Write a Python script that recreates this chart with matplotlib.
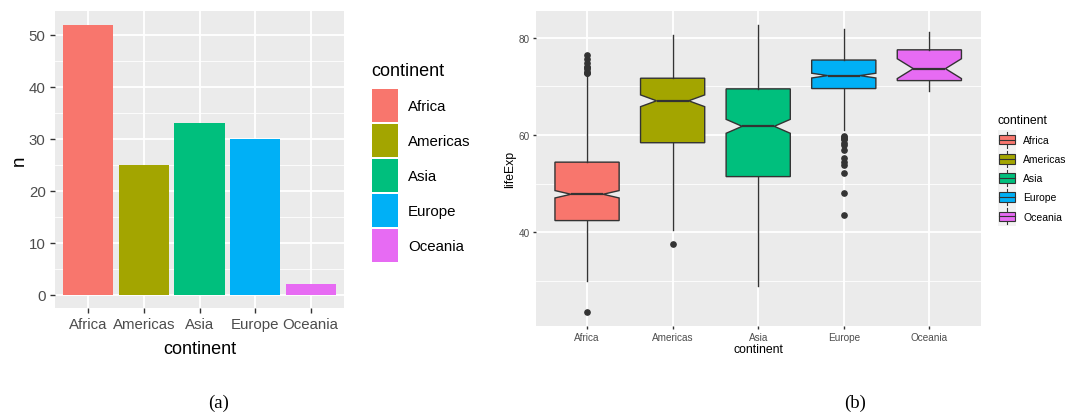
import numpy as np
import matplotlib.pyplot as plt
from matplotlib.patches import Patch, Rectangle
from matplotlib.lines import Line2D
from matplotlib.legend_handler import HandlerBase

plt.rcParams['font.family'] = ['Liberation Sans', 'DejaVu Sans']

# data
continents = ["Africa", "Americas", "Asia", "Europe", "Oceania"]
colors = ["#F8766D", "#A3A500", "#00BF7D", "#00B0F6", "#E76BF3"]

# (a) number of countries per continent
n_countries = [52, 25, 33, 30, 2]

# (b) lifeExp summary per continent
q1 = [42.37, 58.41, 51.43, 69.57, 71.21]
med = [47.79, 67.05, 61.79, 72.24, 73.67]
q3 = [54.41, 71.70, 69.51, 75.45, 77.55]
whis_lo = [30.00, 40.41, 28.80, 61.04, 69.12]
whis_hi = [72.30, 80.65, 82.60, 81.76, 81.24]
n_obs = [624, 300, 396, 360, 24]
outliers = [
    [23.60, 72.74, 72.80, 73.04, 73.62, 73.92, 73.95, 74.77, 75.74, 76.44],
    [37.58],
    [],
    [43.59, 48.08, 52.10, 53.82, 54.34, 55.23, 57.00, 58.00, 58.45,
     59.16, 59.28, 59.51, 59.82],
    [],
]

W, H = 1067, 414
BG = "#EBEBEB"
TICK = "#4D4D4D"
LINE = "#333333"


def gg_axes(ax, lab_size, tlen, tpad):
    ax.set_facecolor(BG)
    for s in ax.spines.values():
        s.set_visible(False)
    ax.grid(True, which="major", color="white", lw=1.3)
    ax.grid(True, which="minor", axis="y", color="white", lw=0.6)
    ax.set_axisbelow(True)
    ax.tick_params(which="major", colors=LINE, labelcolor=TICK, length=tlen,
                   width=1, labelsize=lab_size, pad=tpad)
    ax.tick_params(which="minor", length=0)


def key_height(px, fs):
    # legend handle height (in fontsize units) that gives a box of px pixels
    pt = px * 72 / 100
    return (pt / fs - 0.245) / 0.65


fig = plt.figure(figsize=(W / 100, H / 100), dpi=100)

# ---- (a) bar chart
ax1 = fig.add_axes([55 / W, 1 - 309 / H, 289 / W, 297 / H])
gg_axes(ax1, 10.8, 3.5, 3.2)
x = np.arange(1, len(continents) + 1)
ax1.bar(x, n_countries, width=0.9, color=colors)
ax1.set_xlim(0.4, 5.6)
ax1.set_ylim(-2.6, 54.6)
ax1.set_xticks(x)
ax1.set_xticklabels(continents)
ax1.set_yticks(range(0, 51, 10))
ax1.set_yticks(range(5, 50, 10), minor=True)
ax1.set_xlabel("continent", fontsize=13, labelpad=6)
ax1.set_ylabel("n", fontsize=13.5, labelpad=1)

fs1 = 10.8
h1 = [Patch(facecolor=c, edgecolor="none") for c in colors]
leg1 = ax1.legend(h1, continents, loc="upper left",
                  bbox_to_anchor=(372 / W, 1 - 90 / H),
                  bbox_transform=fig.transFigure, frameon=False,
                  fontsize=fs1, borderpad=0, borderaxespad=0,
                  handlelength=26 * 0.72 / fs1,
                  handleheight=key_height(33, fs1),
                  labelspacing=2 * 0.72 / fs1,
                  handletextpad=10 * 0.72 / fs1)
fig.text(371 / W, 1 - 76 / H, "continent", fontsize=13, va="baseline",
         ha="left")

# ---- (b) notched boxplot
ax2 = fig.add_axes([535.7 / W, 1 - 327 / H, 445 / W, 315 / H])
gg_axes(ax2, 7.2, 2.5, 1.8)
stats = []
for i in range(len(continents)):
    notch = 1.58 * (q3[i] - q1[i]) / np.sqrt(n_obs[i])
    stats.append(dict(med=med[i], q1=q1[i], q3=q3[i], whislo=whis_lo[i],
                      whishi=whis_hi[i], fliers=outliers[i],
                      cilo=med[i] - notch, cihi=med[i] + notch))
bp = ax2.bxp(stats, positions=x, widths=0.75, shownotches=True,
             patch_artist=True, showcaps=False, manage_ticks=False,
             boxprops=dict(edgecolor=LINE, linewidth=1),
             whiskerprops=dict(color=LINE, linewidth=1),
             medianprops=dict(color=LINE, linewidth=1.6),
             flierprops=dict(marker="o", markerfacecolor=LINE,
                             markeredgecolor=LINE, markersize=3.8))
for box, c in zip(bp["boxes"], colors):
    box.set_facecolor(c)
ax2.set_xlim(0.4, 5.6)
ax2.set_ylim(20.65, 85.55)
ax2.set_xticks(x)
ax2.set_xticklabels(continents)
ax2.set_yticks([40, 60, 80])
ax2.set_yticks([30, 50, 70], minor=True)
ax2.set_xlabel("continent", fontsize=8.8, labelpad=1)
ax2.set_ylabel("lifeExp", fontsize=8.8, labelpad=2)


class BoxKey(HandlerBase):
    def create_artists(self, legend, orig, xd, yd, w, h, fs, trans):
        x0, y0 = -xd, -yd
        bg = Rectangle((x0, y0), w, h, facecolor="#F2F2F2", edgecolor="none",
                       transform=trans)
        wl = Line2D([x0 + w / 2] * 2, [y0 + 0.08 * h, y0 + 0.92 * h],
                    color=LINE, lw=0.8, transform=trans)
        bx = Rectangle((x0 + 0.08 * w, y0 + 0.25 * h), 0.84 * w, 0.5 * h,
                       facecolor=orig.get_facecolor(), edgecolor=LINE,
                       lw=0.8, transform=trans)
        md = Line2D([x0 + 0.08 * w, x0 + 0.92 * w], [y0 + h / 2] * 2,
                    color=LINE, lw=0.8, transform=trans)
        return [bg, wl, bx, md]


fs2 = 7.5
h2 = [Patch(facecolor=c) for c in colors]
leg2 = ax2.legend(h2, continents, loc="upper left",
                  bbox_to_anchor=(998 / W, 1 - 131 / H),
                  bbox_transform=fig.transFigure, frameon=False,
                  fontsize=fs2, borderpad=0, borderaxespad=0,
                  handlelength=18 * 0.72 / fs2,
                  handleheight=key_height(19.2, fs2),
                  labelspacing=0.0, handletextpad=7 * 0.72 / fs2,
                  handler_map={Patch: BoxKey()})
fig.text(997 / W, 1 - 124 / H, "continent", fontsize=8.8, va="baseline",
         ha="left")

# captions
fig.text(219 / W, 1 - 403 / H, "(a)", ha="center", va="center",
         fontsize=13.5, family="Liberation Serif")
fig.text(855 / W, 1 - 403 / H, "(b)", ha="center", va="center",
         fontsize=13.5, family="Liberation Serif")

fig.savefig("out.png", dpi=100)
